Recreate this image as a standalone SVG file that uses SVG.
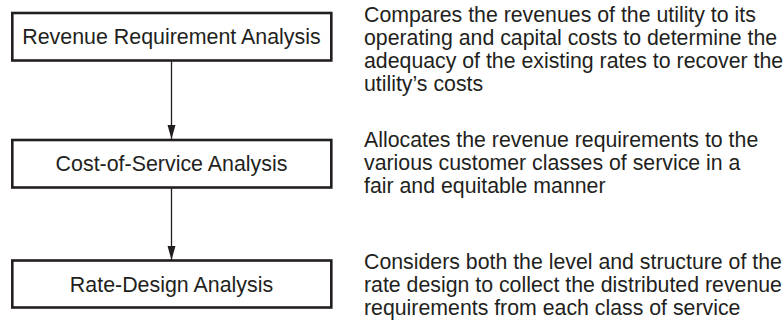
<svg xmlns="http://www.w3.org/2000/svg" width="783" height="326" viewBox="0 0 783 326">
  <style>
    .box { fill: #ffffff; stroke: #231f20; stroke-width: 2.6; }
    .label { font-family: "Liberation Sans", Arial, sans-serif; font-size: 21.4px; fill: #231f20; text-anchor: middle; }
    .note { font-family: "Liberation Sans", Arial, sans-serif; font-size: 21.3px; fill: #231f20; }
    .link { stroke: #231f20; stroke-width: 1.3; fill: none; }
  </style>
  <defs>
    <marker id="arrow" markerUnits="userSpaceOnUse" markerWidth="16" markerHeight="10" refX="14" refY="4" orient="auto">
      <path d="M0,0 L14,4 L0,8 Z" fill="#231f20"/>
    </marker>
  </defs>
  <rect width="783" height="326" fill="#ffffff"/>

  <g id="connectors">
    <line class="link" x1="171.5" y1="61" x2="171.5" y2="139" marker-end="url(#arrow)"/>
    <line class="link" x1="171.5" y1="188" x2="171.5" y2="260" marker-end="url(#arrow)"/>
  </g>

  <g id="revenue-requirement">
    <rect class="box" x="12.3" y="13" width="319" height="47.5"/>
    <text class="label" x="171.5" y="44">Revenue Requirement Analysis</text>
  </g>

  <g id="cost-of-service">
    <rect class="box" x="12.3" y="140" width="319" height="47.5"/>
    <text class="label" x="171.5" y="171">Cost-of-Service Analysis</text>
  </g>

  <g id="rate-design">
    <rect class="box" x="12.3" y="260.5" width="319" height="47"/>
    <text class="label" x="171.5" y="291.5">Rate-Design Analysis</text>
  </g>

  <g id="revenue-requirement-note">
    <text class="note" x="364" y="22">Compares the revenues of the utility to its</text>
    <text class="note" x="364" y="45">operating and capital costs to determine the</text>
    <text class="note" x="364" y="68">adequacy of the existing rates to recover the</text>
    <text class="note" x="364" y="91">utility’s costs</text>
  </g>

  <g id="cost-of-service-note">
    <text class="note" x="364" y="147">Allocates the revenue requirements to the</text>
    <text class="note" x="364" y="170">various customer classes of service in a</text>
    <text class="note" x="364" y="193">fair and equitable manner</text>
  </g>

  <g id="rate-design-note">
    <text class="note" x="364" y="269">Considers both the level and structure of the</text>
    <text class="note" x="364" y="292">rate design to collect the distributed revenue</text>
    <text class="note" x="364" y="315">requirements from each class of service</text>
  </g>
</svg>
